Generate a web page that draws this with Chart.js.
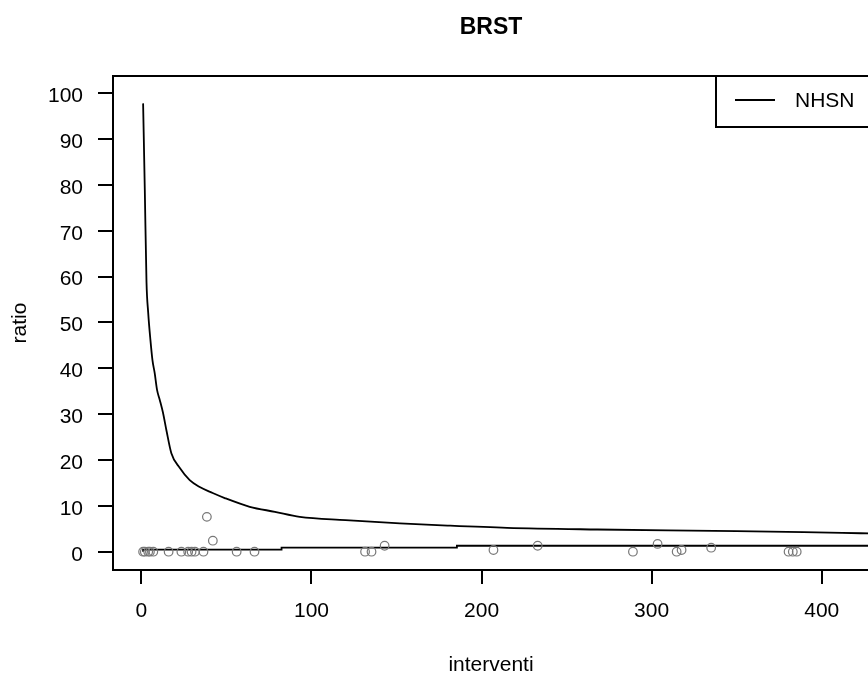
<!DOCTYPE html>
<html><head><meta charset="utf-8">
<script src="https://cdn.jsdelivr.net/npm/chart.js@4/dist/chart.umd.min.js"></script>
<style>html,body{margin:0;padding:0;background:#fff;overflow:hidden;} #wrap{width:880px;height:677px;position:relative;}</style>
</head><body><div id="wrap"><canvas id="c"></canvas></div>
<script>
const chartTitle = 'BRST';
const xAxisLabel = 'interventi';
const yAxisLabel = 'ratio';
const legendLabel = 'NHSN';

const interventi = [1,2,4,5,7,16,23.5,27.5,29.5,31.5,36.5,38.5,42,56,66.5,131.5,135.3,143,207,233,289,303.5,314.7,317.6,335,380.5,383,385.3];
const ratio      = [0,0,0,0,0,0,0,0,0,0,0,7.6,2.4,0,0,0,0,1.3,0.37,1.3,0,1.7,0,0.37,0.87,0,0,0];

const nhsnUpperX = [1,2,3,4,5.3,6.5,7.8,9.2,10.8,12.7,14.7,17.6,22.5,28.4,34.3,41.9,49,63.7,78.5,93.1,120,152,180,215,268,350,412,428];
const nhsnUpperY = [97.8,78.9,58.8,52.1,46.2,41.8,39.0,35.3,33.1,30.3,26.5,21.5,18.3,15.6,14.1,12.8,11.7,9.8,8.7,7.6,6.9,6.2,5.7,5.2,4.85,4.5,4.1,4.0];

const nhsnLowerX = [1,82.4,185.5,401.4,428];
const nhsnLowerY = [0,0.45,0.87,1.3,1.3];

const xTicks = [0,100,200,300,400];
const yTicks = [0,10,20,30,40,50,60,70,80,90,100];

const toXY = (xs, ys) => xs.map((x, i) => ({x: x, y: ys[i]}));

Chart.defaults.font.family = '"Liberation Sans", Arial, sans-serif';
Chart.defaults.color = '#000';

const boxPlugin = {
  id: 'rbox',
  afterDraw(chart) {
    const {ctx, chartArea: a} = chart;
    ctx.save();
    ctx.strokeStyle = '#000';
    ctx.lineWidth = 2;
    ctx.strokeRect(a.left, a.top, a.right - a.left, a.bottom - a.top);
    const bw = 153, bh = 51;
    const bx = a.right - bw, by = a.top;
    ctx.fillStyle = '#fff';
    ctx.fillRect(bx, by, bw, bh);
    ctx.strokeRect(bx, by, bw, bh);
    const ly = by + 24;
    ctx.beginPath();
    ctx.moveTo(bx + 19, ly);
    ctx.lineTo(bx + 59, ly);
    ctx.lineWidth = 1.8;
    ctx.stroke();
    ctx.fillStyle = '#000';
    ctx.font = '21px "Liberation Sans", Arial, sans-serif';
    ctx.textBaseline = 'middle';
    ctx.textAlign = 'left';
    ctx.fillText(chart.data.datasets[1].label, bx + 79, ly + 1);
    ctx.restore();
  }
};

new Chart(document.getElementById('c'), {
  type: 'scatter',
  data: {
    datasets: [
      {
        label: 'ratio',
        data: toXY(interventi, ratio),
        showLine: false,
        pointStyle: 'circle',
        pointRadius: 4.3,
        pointBorderWidth: 1.2,
        pointBorderColor: '#777',
        pointBackgroundColor: 'rgba(0,0,0,0)'
      },
      {
        label: legendLabel,
        data: toXY(nhsnUpperX, nhsnUpperY),
        showLine: true,
        borderColor: '#000',
        borderWidth: 1.8,
        pointRadius: 0,
        cubicInterpolationMode: 'monotone'
      },
      {
        label: legendLabel + ' low',
        data: toXY(nhsnLowerX, nhsnLowerY),
        showLine: true,
        stepped: 'after',
        borderColor: '#000',
        borderWidth: 1.8,
        pointRadius: 0
      }
    ]
  },
  options: {
    responsive: true,
    maintainAspectRatio: false,
    animation: false,
    layout: { padding: { left: 0, right: 11, top: 0, bottom: 0 } },
    plugins: {
      legend: { display: false },
      tooltip: { enabled: false },
      title: {
        display: true,
        text: chartTitle,
        fullSize: false,
        color: '#000',
        font: { size: 23, weight: 'bold', lineHeight: 1.2 },
        padding: { top: 14, bottom: 34.4 }
      }
    },
    scales: {
      x: {
        type: 'linear',
        min: -16.7,
        max: 427.8,
        afterBuildTicks: (s) => { s.ticks = xTicks.map(v => ({value: v})); },
        afterFit: (s) => { s.height = 107; },
        grid: { display: true, drawOnChartArea: false, drawTicks: true, tickLength: 14, color: '#000', lineWidth: 2 },
        border: { display: false },
        ticks: { padding: 15, color: '#000', font: { size: 21 }, maxRotation: 0, autoSkip: false },
        title: { display: true, text: xAxisLabel, color: '#000', font: { size: 21, lineHeight: 1.1 }, padding: { top: 0, bottom: 0 } }
      },
      y: {
        type: 'linear',
        min: -3.99,
        max: 103.77,
        afterBuildTicks: (s) => { s.ticks = yTicks.map(v => ({value: v})); },
        afterFit: (s) => { s.width = 113; },
        grid: { display: true, drawOnChartArea: false, drawTicks: true, tickLength: 15, color: '#000', lineWidth: 2 },
        border: { display: false },
        ticks: { padding: 15, labelOffset: 3, color: '#000', font: { size: 21 }, autoSkip: false },
        title: { display: true, text: yAxisLabel, color: '#000', font: { size: 21, lineHeight: 1.1 }, padding: { top: 9, bottom: 0 } }
      }
    }
  },
  plugins: [boxPlugin]
});
</script>
</body></html>
